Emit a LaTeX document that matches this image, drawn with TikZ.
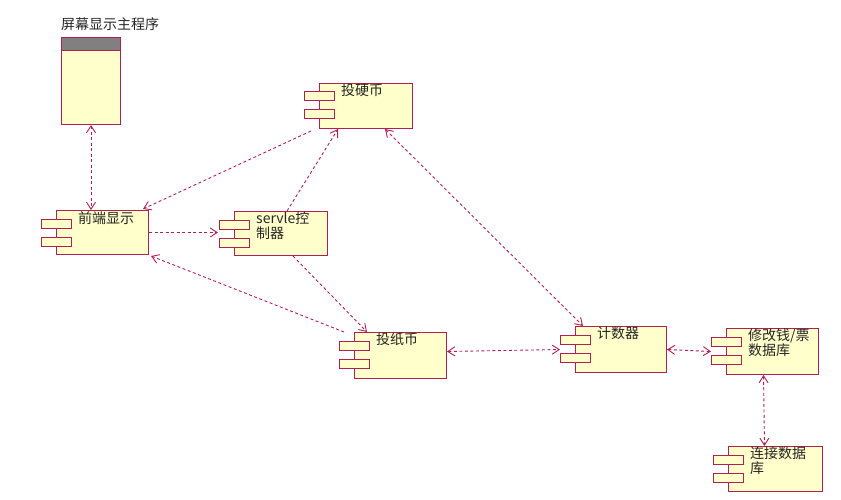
\documentclass[tikz,border=0pt]{standalone}
\usepackage{fontspec}
\newfontfamily\cjk{Noto Sans CJK SC}
\usetikzlibrary{arrows.meta,calc}
\definecolor{umlred}{RGB}{176,32,80}
\definecolor{umlfill}{RGB}{255,255,204}
\definecolor{umlgray}{RGB}{128,128,128}
\tikzset{
  compbox/.style={draw=umlred, fill=umlfill, line width=1pt, inner sep=0pt, anchor=north west},
  tabbox/.style={draw=umlred, fill=umlfill, line width=1pt},
  ctext/.style={anchor=north west, inner sep=0pt, align=left, text=black!85,
    font=\cjk\fontsize{14}{15}\selectfont},
  dep/.style={draw=umlred, line width=0.9pt, dash pattern=on 3pt off 2.5pt},
  >={Straight Barb[length=7pt,width=9pt]}
}
% #1 name, #2 left, #3 top, #4 width, #5 height, #6 text
\newcommand\umlcomp[6]{%
  \node[compbox, minimum width=#4pt, minimum height=#5pt] (#1) at (#2,#3) {};
  \draw[tabbox] ($(#1.north west)+(-15,9)$) rectangle +(30,9);
  \draw[tabbox] ($(#1.north west)+(-15,27)$) rectangle +(30,9);
  \node[ctext] (#1-t) at ($(#1.north west)+(22,1)$) {#6};
}
\begin{document}
\begin{tikzpicture}[x=1pt,y=-1pt]
\useasboundingbox (0,0) rectangle (841,500);
% main program
\node[compbox, minimum width=59pt, minimum height=87pt] (main) at (61,37) {};
\node[draw=umlred, fill=umlgray, line width=1pt, inner sep=0pt, anchor=north west,
  minimum width=59pt, minimum height=13pt] (mainhead) at (61,37) {};
\node[ctext] (main-t) at (61,17) {屏幕显示主程序};
% components
\umlcomp{fe}{56}{210}{92}{44}{前端显示}
\umlcomp{serve}{234}{211}{93}{44}{servle控\\制器}
\umlcomp{coin}{319}{83}{93}{45}{投硬币}
\umlcomp{paper}{354}{332}{92}{46}{投纸币}
\umlcomp{counter}{575}{326}{91}{46}{计数器}
\umlcomp{db}{726}{328}{92}{46}{修改钱/票\\数据库}
\umlcomp{cdb}{728}{446}{94}{45}{连接数据\\库}
% connectors
\draw[dep,<->] (main.south) -- (main.south |- fe.north);
\draw[dep,->] ($(coin.south west)+(-8,2)$) -- ($(fe.north east)+(-6,-1)$);
\draw[dep,->] (fe.east) -- ($(fe.east -| serve.west)+(-16,0)$);
\draw[dep,->] ($(serve.north)+(6,0)$) -- ($(coin.south west)+(19,0)$);
\draw[dep,<->] ($(coin.south)+(19,0)$) -- ($(counter.north west)+(8,0)$);
\draw[dep,->] ($(serve.south)+(12,0)$) -- ($(paper.north west)+(13,0)$);
\draw[dep,->] ($(paper.north west)+(-10,0)$) -- ($(fe.south east)+(2,1)$);
\draw[dep,<->] ($(paper.east)+(0,-4)$) -- ($(counter.west)+(-15,0)$);
\draw[dep,<->] (counter.east) -- ($(db.west)+(-15,0)$);
\draw[dep,<->] ($(db.south)+(-9,0)$) -- ($(cdb.north)+(-11,0)$);
\end{tikzpicture}
\end{document}
